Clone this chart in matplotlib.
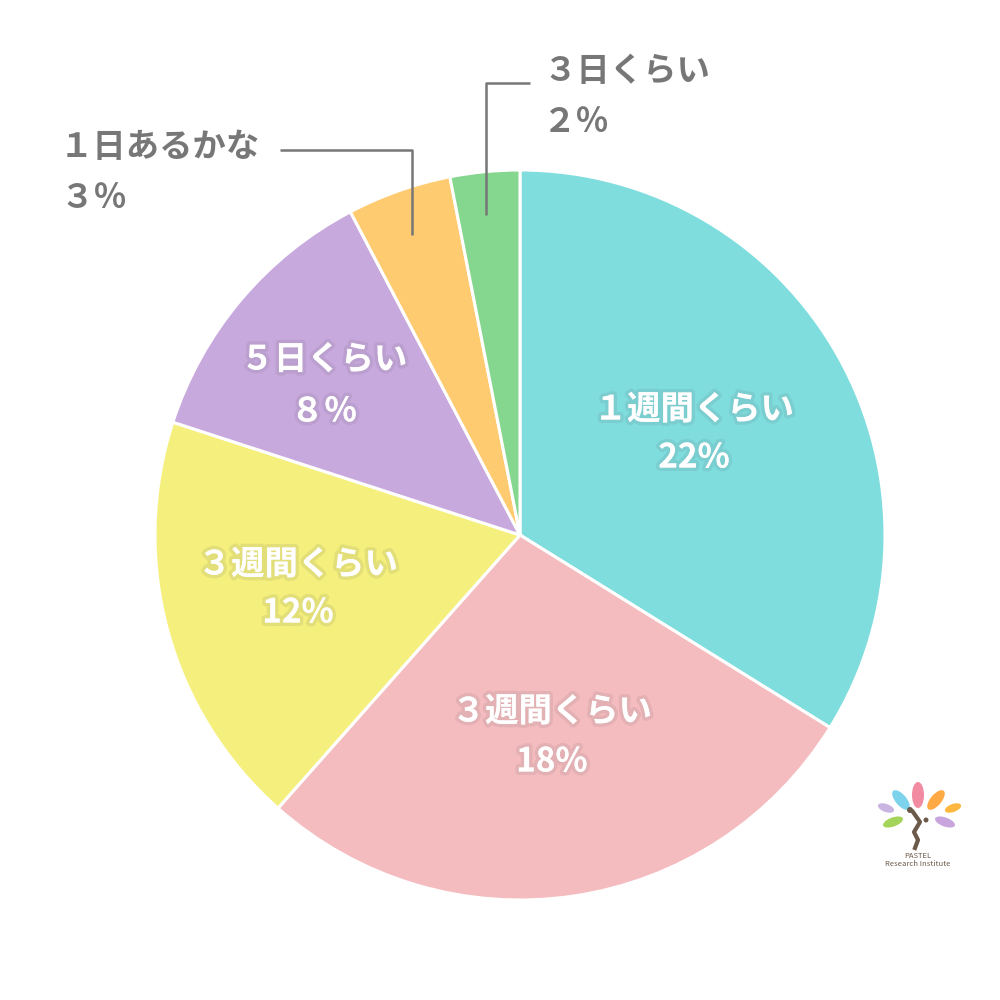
import matplotlib
matplotlib.use("Agg")
import matplotlib.pyplot as plt
import matplotlib.patheffects as pe
from matplotlib.patches import Ellipse

plt.rcParams["font.family"] = ["Noto Sans CJK JP", "DejaVu Sans"]

# slices, clockwise from 12 o'clock
names = ["１週間くらい", "３週間くらい", "３週間くらい", "５日くらい", "１日あるかな", "３日くらい"]
values = [22, 18, 12, 8, 3, 2]
pct_labels = ["22%", "18%", "12%", "８％", "３％", "２％"]
colors = ["#80DDDE", "#F5BCC0", "#F5F07D", "#C8A9DE", "#FFCB70", "#85D68F"]

fig = plt.figure(figsize=(10, 10), dpi=100)
ax = fig.add_axes([0, 0, 1, 1])

ax.pie(values, colors=colors, startangle=90, counterclock=False,
       center=(520, 465), radius=365,
       wedgeprops=dict(edgecolor="white", linewidth=2.2))

# pie() resets the view, so fix pixel-like coords afterwards
ax.set_xlim(0, 1000)
ax.set_ylim(0, 1000)
ax.set_aspect("equal")
ax.axis("off")

fs = 24
shadow = [pe.Stroke(linewidth=5, foreground=(0.3, 0.3, 0.3, 0.10)), pe.Normal()]
inner_pos = [(694, 590, 542), (552, 288, 238), (298, 435, 387), (324, 640, 588)]
for i, (x, y1, y2) in enumerate(inner_pos):
    ax.text(x, y1, names[i], color="white", fontsize=fs, fontweight="bold",
            ha="center", va="center", path_effects=shadow)
    ax.text(x, y2, pct_labels[i], color="white", fontsize=fs, fontweight="bold",
            ha="center", va="center", path_effects=shadow)

grey = "#777777"
# outside labels with leader lines
ax.text(60, 852, names[4], color=grey, fontsize=fs, fontweight="bold", ha="left", va="center")
ax.text(60, 802, pct_labels[4], color=grey, fontsize=fs, fontweight="bold", ha="left", va="center")
ax.plot([280, 412, 412], [850, 850, 765], color=grey, lw=1.8, solid_capstyle="butt")

ax.text(543, 928, names[5], color=grey, fontsize=fs, fontweight="bold", ha="left", va="center")
ax.text(543, 878, pct_labels[5], color=grey, fontsize=fs, fontweight="bold", ha="left", va="center")
ax.plot([530, 486, 486], [917, 917, 785], color=grey, lw=1.8, solid_capstyle="butt")

# small logo, bottom right
leaves = [
    (918, 205, 12, 26, 0, "#F28AA2"),
    (901, 200, 11, 24, 40, "#7DD3EB"),
    (936, 200, 11, 24, -40, "#FFAA45"),
    (886, 192, 8, 17, 70, "#C9B4E2"),
    (953, 192, 8, 17, -70, "#FFB83F"),
    (893, 178, 9, 21, 110, "#A5D45A"),
    (945, 178, 9, 21, -110, "#C9A5DE"),
]
for x, y, w, h, ang, c in leaves:
    ax.add_patch(Ellipse((x, y), w, h, angle=ang, color=c, lw=0))
ax.plot([913, 920, 914, 918, 915], [188, 178, 168, 160, 152], color="#6B5A4A", lw=3)
ax.add_patch(Ellipse((910, 190), 6, 6, color="#6B5A4A", lw=0))
ax.add_patch(Ellipse((926, 180), 5, 5, color="#6B5A4A", lw=0))
ax.text(918, 144, "PASTEL", color="#6B5A4A", fontsize=5.5, ha="center", va="center")
ax.text(918, 136, "Research Institute", color="#6B5A4A", fontsize=5.5, ha="center", va="center")

fig.savefig("out.png", dpi=100, facecolor="white")
